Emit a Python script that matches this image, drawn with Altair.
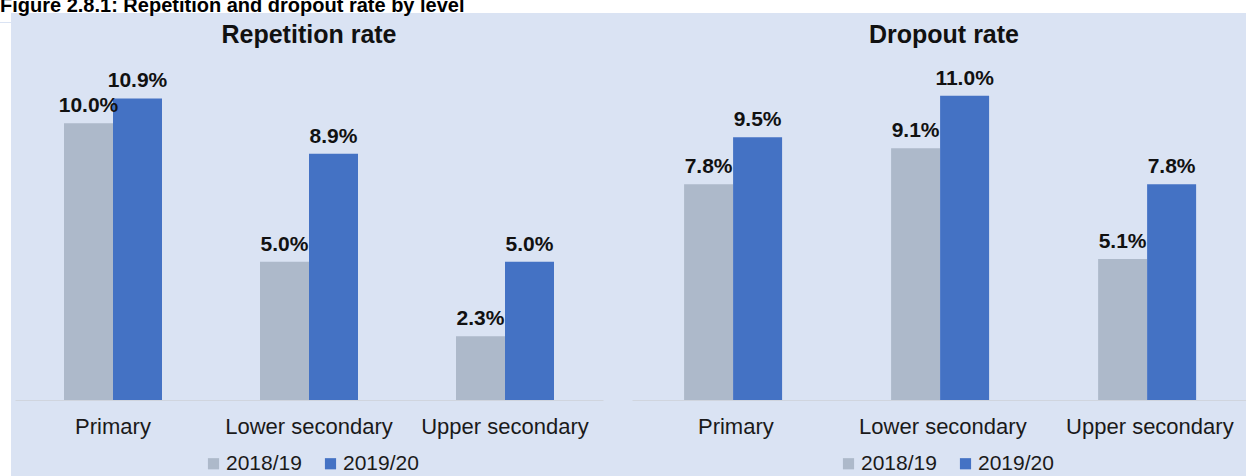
import altair as alt
import pandas as pd

# ---- data ----
levels = ["Primary", "Lower secondary", "Upper secondary"]
years = ["2018/19", "2019/20"]
repetition_2018 = [10.0, 5.0, 2.3]
repetition_2019 = [10.9, 8.9, 5.0]
dropout_2018 = [7.8, 9.1, 5.1]
dropout_2019 = [9.5, 11.0, 7.8]
fig_title = "Figure 2.8.1: Repetition and dropout rate by level"
panel_titles = ["Repetition rate", "Dropout rate"]

BG = "#dae3f3"
COLORS = ["#adb9ca", "#4472c4"]
FONT = "Liberation Sans"
H = 332
HEADER_H = 22


def make_df(v1, v2):
    rows = []
    for lvl, a, b in zip(levels, v1, v2):
        rows.append({"level": lvl, "year": years[0], "value": a})
        rows.append({"level": lvl, "year": years[1], "value": b})
    return pd.DataFrame(rows)


def panel(df, title, width, legend_x, pad_outer, align, title_dx=0):
    base = alt.Chart(df).encode(
        x=alt.X("level:N", sort=levels,
                scale=alt.Scale(paddingInner=0.5, paddingOuter=pad_outer,
                                align=align),
                axis=alt.Axis(title=None, labelAngle=0, ticks=False,
                              domainColor="#d0d5de", domainWidth=1,
                              labelFontSize=22, labelFont=FONT,
                              labelColor="#1a1a1a", labelPadding=16)),
        xOffset=alt.XOffset("year:N", sort=years,
                            scale=alt.Scale(paddingInner=0, paddingOuter=0)),
        y=alt.Y("value:Q", scale=alt.Scale(domain=[0, 12], nice=False),
                axis=None),
    )
    bars = base.mark_bar().encode(
        color=alt.Color("year:N", sort=years,
                        scale=alt.Scale(domain=years, range=COLORS),
                        legend=alt.Legend(title=None, orient="none",
                                          legendX=legend_x, legendY=385,
                                          direction="horizontal",
                                          symbolType="square", symbolSize=125,
                                          symbolStrokeWidth=0,
                                          labelFontSize=21, labelFont=FONT,
                                          labelColor="#1a1a1a", labelOffset=2,
                                          columnPadding=18, padding=0))
    )
    labels = base.transform_calculate(
        label="format(datum.value, '.1f') + '%'"
    ).mark_text(dy=-11, baseline="alphabetic", fontSize=21,
                fontWeight="bold", font=FONT, color="#111111").encode(
        text="label:N")
    return alt.layer(bars, labels).properties(
        width=width, height=H,
        title=alt.TitleParams(title, fontSize=25, font=FONT,
                              fontWeight="bold", color="#111111",
                              anchor="middle", offset=20, dx=title_dx),
    )


p1 = panel(make_df(repetition_2018, repetition_2019), panel_titles[0],
           588, 188, 0.25, 0.5)
p2 = panel(make_df(dropout_2018, dropout_2019), panel_titles[1],
           614, 206, 0.233, 0.54, title_dx=5)

one = pd.DataFrame({"t": [fig_title]})

header = alt.layer(
    alt.Chart(one).mark_rect(color="white").encode(
        x=alt.value(0), x2=alt.value(1246), y=alt.value(0), y2=alt.value(13)),
    alt.Chart(one).mark_rect(color="white").encode(
        x=alt.value(0), x2=alt.value(11), y=alt.value(13),
        y2=alt.value(HEADER_H)),
    alt.Chart(one).mark_text(align="left", baseline="alphabetic", fontSize=20,
                             fontWeight="bold", font=FONT, color="#000000",
                             clip=True).encode(
        x=alt.value(0), y=alt.value(12), text="t:N"),
).properties(width=1246, height=HEADER_H)

strip = alt.Chart(one).mark_rect(color="white").encode(
    x=alt.value(0), x2=alt.value(11), y=alt.value(-45), y2=alt.value(409)
).properties(width=15, height=H)

panels = alt.hconcat(p1, p2, spacing=29).resolve_scale(
    color="independent").resolve_legend(color="independent")

row = alt.hconcat(strip, panels, spacing=0)

chart = alt.vconcat(header, row, spacing=0).properties(
    background=BG, padding=0
).configure_view(stroke=None)

chart.save("out.html", embed_options={"renderer": "svg", "actions": False})
